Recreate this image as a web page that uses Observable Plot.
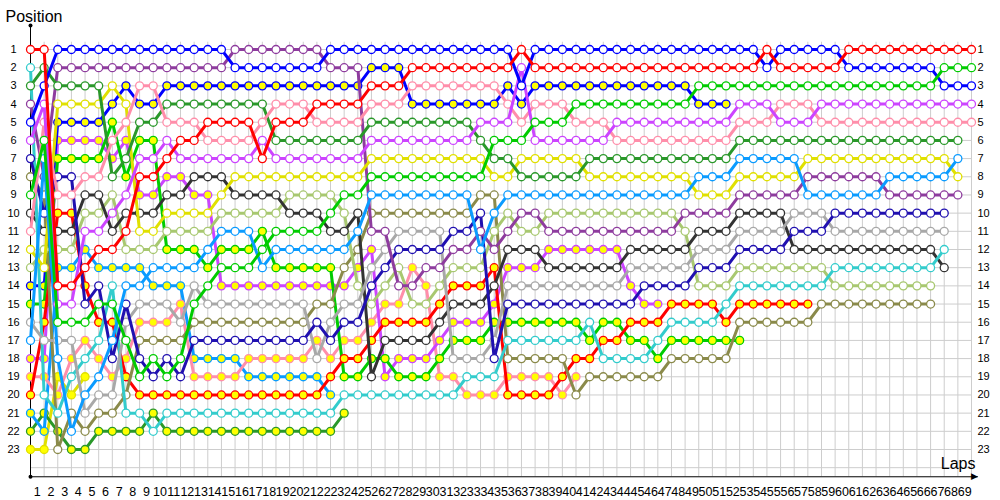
<!DOCTYPE html>
<html><head><meta charset="utf-8">
<script src="https://cdn.jsdelivr.net/npm/d3@7"></script>
<script src="https://cdn.jsdelivr.net/npm/@observablehq/plot@0.6"></script>
<style>html,body{margin:0;padding:0;background:#fff;} #chart svg{display:block}</style>
</head><body><div id="chart"></div>
<script>
// Laps 0 (grid) .. 69, positions 1..23
const laps = d3.range(0, 70);
const positions = d3.range(1, 24);
const gridRows = d3.range(1, 25);
const lapLabels = d3.range(1, 70);
const N = null;

// position of each car on every lap (null = no longer running)
const redA    = [1,1,14,14,13,12,12,11,8,8, 7,6,6,5,5,5,5,7,5,5, 5,4,4,4,4,3,3,3,2,2, 2,2,2,2,2,2,1,2,2,2, 2,2,2,2,2,2,2,2,2,2, 2,2,2,2,1,2,2,2,2,2, 1,1,1,1,1,1,1,1,1,1];
const redB    = [20,16,10,10,14,16,16,19,20,20, 20,20,20,20,20,20,20,20,20,20, 20,20,19,18,18,17,16,16,16,16, 15,14,14,14,13,20,20,20,20,19, 18,18,17,17,16,16,16,15,15,15, 15,16,15,15,15,15,15,15,N,N, N,N,N,N,N,N,N,N,N,N];
const blueA   = [5,3,1,1,1,1,1,1,1,1, 1,1,1,1,1,2,2,2,2,2, 2,2,1,1,1,1,1,1,1,1, 1,1,1,1,1,1,3,1,1,1, 1,1,1,1,1,1,1,1,1,1, 1,1,1,1,2,1,1,1,1,1, 2,2,2,2,2,2,2,3,3,3];
const blueB   = [14,14,5,5,5,5,4,3,4,4, 3,3,3,3,3,3,3,3,3,3, 3,3,3,3,3,2,2,2,4,4, 4,4,4,4,4,3,4,3,3,3, 3,3,3,3,3,3,3,3,3,4, 4,4,N,N,N,N,N,N,N,N, N,N,N,N,N,N,N,N,N,N];
const navyA   = [7,10,8,8,15,14,18,15,18,19, 18,19,17,17,17,17,17,17,17,17, 17,16,17,16,16,14,13,12,12,12, 12,11,11,10,18,15,15,15,15,15, 15,15,15,15,15,14,14,14,14,13, 13,13,12,12,12,12,11,11,11,10, 10,10,10,10,10,10,10,10,N,N];
const greenA  = [9,6,16,16,16,15,15,17,19,18, 19,18,15,14,13,13,13,12,11,11, 11,11,10,9,9,8,8,8,8,8, 8,8,8,8,6,6,6,5,5,5, 4,4,4,4,4,4,4,4,4,3, 3,3,3,3,3,3,3,3,3,3, 3,3,3,3,3,3,3,2,2,2];
const greenB  = [15,15,7,7,7,7,5,8,6,6, 12,12,12,13,12,12,12,11,13,13, 13,13,13,19,19,18,18,19,19,19, 18,17,17,17,16,16,16,16,16,16, 16,17,16,16,17,17,18,17,17,17, 17,17,17,N,N,N,N,N,N,N, N,N,N,N,N,N,N,N,N,N];
const dgreenA = [3,2,3,3,3,3,8,7,5,5, 4,4,4,4,4,4,4,4,6,6, 6,6,6,6,6,5,5,5,5,5, 5,5,5,6,7,7,8,8,8,8, 8,7,7,7,7,7,7,7,7,7, 7,7,6,6,6,6,6,6,6,6, 6,6,6,6,6,6,6,6,6,N];
const dgreenB = [22,21,22,23,23,22,22,22,22,21, 22,22,22,22,22,22,22,22,22,22, 22,22,22,21,N,N,N,N,N,N, N,N,N,N,N,N,N,N,N,N, N,N,N,N,N,N,N,N,N,N, N,N,N,N,N,N,N,N,N,N, N,N,N,N,N,N,N,N,N,N];
const yellowA = [12,13,4,4,4,4,3,4,11,11, 10,10,10,10,9,8,8,8,8,8, 8,8,8,8,8,7,7,7,7,7, 7,7,7,7,8,8,7,7,7,7, 7,8,8,8,8,8,8,8,8,9, 9,9,8,8,8,8,8,7,7,7, 7,7,7,7,7,7,7,7,8,N];
const yellowB = [23,23,19,20,19,N,N,N,N,N, N,N,N,N,N,N,N,N,N,N, N,N,N,N,N,N,N,N,N,N, N,N,N,N,N,N,N,N,N,N, N,N,N,N,N,N,N,N,N,N, N,N,N,N,N,N,N,N,N,N, N,N,N,N,N,N,N,N,N,N];
const pinkA   = [11,5,9,9,8,8,6,5,3,3, 5,5,5,6,6,6,6,5,4,4, 4,5,5,5,5,4,4,4,3,3, 3,3,3,3,3,4,5,4,4,4, 5,5,5,6,6,6,6,6,6,6, 6,6,5,5,5,4,4,4,5,5, 5,5,5,5,5,5,5,5,5,5];
const pinkB   = [19,19,20,18,17,18,19,18,16,16, 16,15,19,19,19,19,18,18,18,18, 18,17,18,17,17,16,15,15,13,14, 19,19,20,20,20,19,19,19,19,20, 19,N,N,N,N,N,N,N,N,N, N,N,N,N,N,N,N,N,N,N, N,N,N,N,N,N,N,N,N,N];
const violetA = [6,4,15,15,11,11,10,9,7,7, 6,7,7,7,7,7,7,6,7,7, 7,7,7,7,7,6,6,6,6,6, 6,6,6,5,5,5,2,6,6,6, 6,6,6,5,5,5,5,5,5,5, 5,5,4,4,4,5,5,5,4,4, 4,4,4,4,4,4,4,4,4,4];
const violetB = [18,18,6,6,6,6,7,6,9,9, 8,8,9,9,14,14,14,14,14,14, 14,14,14,14,13,12,19,18,18,18, 17,16,16,16,15,13,13,13,12,12, 12,12,12,12,14,15,15,N,N,N, N,N,N,N,N,N,N,N,N,N, N,N,N,N,N,N,N,N,N,N];
const purpleA = [4,8,2,2,2,2,2,2,2,2, 2,2,2,2,2,1,1,1,1,1, 1,1,2,2,2,11,11,14,14,13, 13,12,12,11,12,11,10,10,11,11, 11,11,11,11,11,11,11,11,10,10, 10,10,9,9,9,9,9,8,8,8, 8,8,8,9,9,9,9,9,9,N];
const skyA    = [17,7,18,22,20,19,17,14,14,13, 13,13,13,12,11,11,11,13,12,12, 12,12,12,12,11,9,9,9,9,9, 9,9,9,12,10,9,9,9,9,9, 9,9,9,9,9,9,9,9,9,8, 8,8,7,7,7,7,7,9,9,9, 9,9,9,8,8,8,8,8,7,N];
const skyB    = [21,22,13,13,12,13,13,13,13,14, 14,14,18,18,18,18,19,19,19,19, 19,19,20,N,N,N,N,N,N,N, N,N,N,N,N,N,N,N,N,N, N,N,N,N,N,N,N,N,N,N, N,N,N,N,N,N,N,N,N,N, N,N,N,N,N,N,N,N,N,N];
const tealA   = [2,20,21,19,18,17,14,21,21,22, 21,21,21,21,21,21,21,21,21,21, 21,21,21,20,20,20,20,20,20,20, 20,20,19,19,19,17,17,17,17,17, 17,16,18,18,18,18,17,16,16,16, 16,15,14,14,14,14,14,14,14,13, 13,13,13,13,13,13,13,12,N,N];
const blackA  = [10,11,11,11,9,9,11,10,10,10, 9,9,8,8,8,9,9,9,9,10, 10,10,11,11,10,19,17,17,17,17, 16,15,15,15,14,12,12,12,13,13, 13,13,13,13,12,12,12,12,12,11, 11,11,10,10,10,10,12,12,12,12, 12,12,12,12,12,12,12,13,N,N];
const greyA   = [16,17,17,17,21,20,20,16,15,15, 15,16,14,15,15,15,15,15,15,15, 15,18,16,15,15,13,12,11,11,11, 11,18,18,18,17,14,14,14,14,14, 14,14,14,14,13,13,13,13,13,12, 12,12,11,11,11,11,10,10,10,11, 11,11,11,11,11,11,11,11,N,N];
const oliveA  = [8,9,23,21,22,21,21,20,17,17, 17,17,16,16,16,16,16,16,16,16, 16,15,15,13,12,10,10,10,10,10, 10,10,10,9,9,18,18,18,18,18, 20,19,19,19,19,19,19,18,18,18, 18,18,16,16,16,16,16,16,15,15, 15,15,15,15,15,15,15,N,N,N];
const limeA   = [13,12,12,12,10,10,9,12,12,12, 11,11,11,11,10,10,10,10,10,9, 9,9,9,10,14,15,14,13,15,15, 14,13,13,13,11,10,11,11,10,10, 10,10,10,10,10,10,10,10,11,14, 14,14,13,13,13,13,13,13,13,14, 14,14,14,14,14,14,14,N,N,N];

const Y = "#ffff00", W = "#ffffff";
const cars = [
  {name:"yellowB", color:"#e0e000", fill:Y, pos:yellowB},
  {name:"dgreenB", color:"#2a982a", fill:Y, pos:dgreenB},
  {name:"skyB",    color:"#0a9bff", fill:Y, pos:skyB},
  {name:"pinkB",   color:"#ff8eaa", fill:Y, pos:pinkB},
  {name:"violetB", color:"#cc44ff", fill:Y, pos:violetB},
  {name:"blueB",   color:"#0000ff", fill:Y, pos:blueB},
  {name:"greenB",  color:"#00cc00", fill:Y, pos:greenB},
  {name:"redB",    color:"#ff0000", fill:Y, pos:redB},
  {name:"oliveA",  color:"#8a8a4a", fill:W, pos:oliveA},
  {name:"limeA",   color:"#a8c870", fill:W, pos:limeA},
  {name:"blackA",  color:"#333333", fill:W, pos:blackA},
  {name:"tealA",   color:"#33cccc", fill:W, pos:tealA},
  {name:"greyA",   color:"#a8a8a8", fill:W, pos:greyA},
  {name:"navyA",   color:"#2010b0", fill:W, pos:navyA},
  {name:"purpleA", color:"#8e3c9e", fill:W, pos:purpleA},
  {name:"yellowA", color:"#e0e000", fill:W, pos:yellowA},
  {name:"skyA",    color:"#0a9bff", fill:W, pos:skyA},
  {name:"dgreenA", color:"#2a982a", fill:W, pos:dgreenA},
  {name:"pinkA",   color:"#ff8eaa", fill:W, pos:pinkA},
  {name:"violetA", color:"#cc44ff", fill:W, pos:violetA},
  {name:"blueA",   color:"#0000ff", fill:W, pos:blueA},
  {name:"greenA",  color:"#00cc00", fill:W, pos:greenA},
  {name:"redA",    color:"#ff0000", fill:W, pos:redA}
];

const carMarks = cars.flatMap(c => {
  const rows = laps.map(l => ({lap: l, pos: c.pos[l]})).filter(r => r.pos != null);
  return [
    Plot.line(rows, {x: "lap", y: "pos", stroke: c.color, strokeWidth: 3, strokeLinejoin: "round"}),
    Plot.dot(rows, {x: "lap", y: "pos", r: 4, stroke: c.color, strokeWidth: 1.3, fill: c.fill})
  ];
});

const chart = Plot.plot({
  width: 1000, height: 500,
  marginLeft: 30, marginRight: 29, marginTop: 49, marginBottom: 51,
  style: {fontFamily: "Liberation Sans, Arial, sans-serif", background: "#fff", overflow: "visible"},
  x: {domain: [0, 69], axis: null},
  y: {domain: [1, 23], reverse: true, axis: null},
  marks: [
    Plot.ruleY(gridRows, {x1: 0, x2: 69, stroke: "#cdcdcd", strokeWidth: 1}),
    Plot.ruleX(lapLabels, {y1: 0.6, y2: 24.5, stroke: "#cdcdcd", strokeWidth: 1}),
    Plot.ruleX([0], {y1: -0.32, y2: 24.5, stroke: "#000", strokeWidth: 1}),
    Plot.ruleY([24.5], {x1: 0, x2: 69.5, stroke: "#000", strokeWidth: 1}),
    Plot.dot([0], {x: 0, y: -0.32, r: 2, fill: "#000"}),
    Plot.dot([0], {x: 0, y: 24.5, r: 2, fill: "#000"}),
    Plot.text(["\u25B6"], {frameAnchor: "bottom-right", dx: 3, dy: 27, fontSize: 9, textAnchor: "middle", lineAnchor: "middle", fill: "#000"}),
    ...carMarks,
    Plot.text(positions, {x: 0, y: d => d, text: d => String(d), dx: -17, textAnchor: "middle", lineAnchor: "middle", fontSize: 11, fill: "#000"}),
    Plot.text(positions, {x: 69, y: d => d, text: d => String(d), dx: 6, textAnchor: "start", lineAnchor: "middle", fontSize: 11, fill: "#000"}),
    Plot.text(lapLabels, {x: d => d - 0.5, y: 24.5, text: d => String(d), dy: 19, textAnchor: "middle", lineAnchor: "bottom", fontSize: 12.5, fill: "#000"}),
    Plot.text(["Position"], {frameAnchor: "top-left", dx: -25, dy: -28, textAnchor: "start", lineAnchor: "bottom", fontSize: 16, fill: "#000"}),
    Plot.text(["Laps"], {frameAnchor: "bottom-right", dx: 4, dy: 19, textAnchor: "end", lineAnchor: "bottom", fontSize: 16, fill: "#000"})
  ]
});
document.getElementById("chart").appendChild(chart);
</script></body></html>
